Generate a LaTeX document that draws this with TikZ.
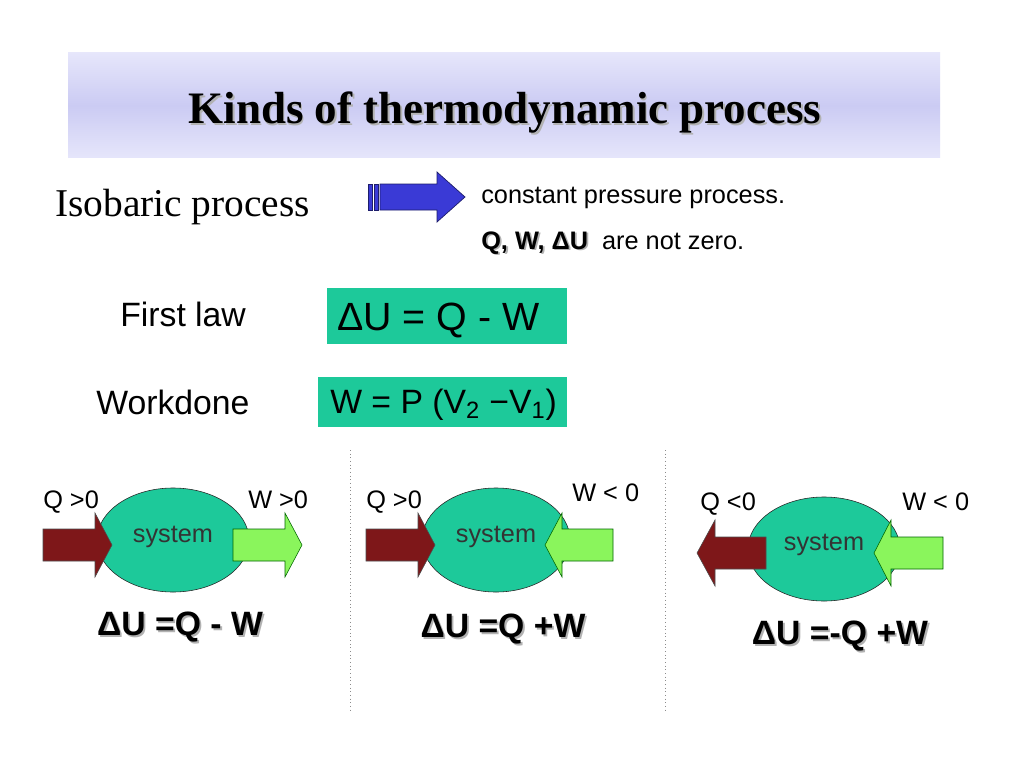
\documentclass[tikz,border=0pt]{standalone}
\usepackage{fontspec}
\setmainfont{Liberation Sans}
\newfontfamily\titleserif{Liberation Serif}
\usetikzlibrary{shapes.geometric,positioning}
\definecolor{SysTeal}{HTML}{1DC99A}
\definecolor{HeatRed}{HTML}{7E1719}
\definecolor{WorkGreen}{HTML}{8AF55C}
\definecolor{PushBlue}{HTML}{3A3AD6}
\definecolor{BarLilac}{HTML}{E6E6FB}
\definecolor{BarLilacMid}{HTML}{CBCBF3}
\newcommand{\dropshadow}[1]{\makebox[0pt][l]{\kern1.3pt\raisebox{-1.3pt}{\textcolor{black!30}{#1}}}{#1}}
% block arrow: style, tail x, neck x, tip x, centre y, half shaft, half head
\newcommand{\blockarrow}[7]{%
  \draw[#1] (#2,#5-#6) -- (#3,#5-#6) -- (#3,#5-#7) -- (#4,#5)
    -- (#3,#5+#7) -- (#3,#5+#6) -- (#2,#5+#6) -- cycle;}
\tikzset{
  titlebar/.style={top color=BarLilac,bottom color=BarLilac,middle color=BarLilacMid},
  eqbox/.style={fill=SysTeal},
  sysellipse/.style={ellipse,draw=black!85,fill=SysTeal,
    minimum width=3.8cm,minimum height=2.6cm,inner sep=0pt},
  systext/.style={font=\fontsize{18}{20}\selectfont,text=black!80},
  flowlabel/.style={font=\fontsize{18}{20}\selectfont,anchor=base west,inner sep=0pt},
  heatarrow/.style={fill=HeatRed,draw=black!70,line width=.4pt},
  workarrow/.style={fill=WorkGreen,draw=black!60!green,line width=.4pt},
  pusharrow/.style={fill=PushBlue,draw=PushBlue!50!black,line width=.5pt},
  energyeq/.style={font=\bfseries\fontsize{24}{26}\selectfont},
  divider/.style={draw=black!45,dotted,line width=.6pt}
}
\begin{document}
\begin{tikzpicture}[x=0.025cm,y=-0.025cm]
\useasboundingbox[fill=white] (0,0) rectangle (1024,768);
% heading
\shade[titlebar] (68,53) rectangle (940,158);
\node[font=\titleserif\bfseries\fontsize{32}{34}\selectfont,anchor=base,inner sep=0pt]
  (title) at (505,124) {\dropshadow{Kinds of thermodynamic process}};
% definition
\node[font=\titleserif\fontsize{28}{30}\selectfont,anchor=base west,inner sep=0pt]
  (isobaric) at (55,216) {Isobaric process};
\fill[pusharrow] (368,184) rectangle (372,210);
\fill[pusharrow] (374,184) rectangle (378,210);
\blockarrow{pusharrow}{380}{437}{465}{197}{13}{25}
\node[font=\fontsize{18}{20}\selectfont,anchor=base west,inner sep=0pt]
  (constp) at (481,203) {constant pressure process.};
\node[font=\fontsize{18}{20}\selectfont,anchor=base west,inner sep=0pt]
  (notzero) at (481,249) {\dropshadow{\bfseries Q, W, ΔU}\ \ are not zero.};
% first law and work
\node[font=\fontsize{24}{26}\selectfont,anchor=base west,inner sep=0pt]
  (firstlaw) at (120,326) {First law};
\fill[eqbox] (327,288) rectangle (567,344);
\node[font=\fontsize{28}{30}\selectfont,anchor=base west,inner sep=0pt]
  (lawEq) at (337,330) {ΔU = Q - W};
\node[font=\fontsize{24}{26}\selectfont,anchor=base west,inner sep=0pt]
  (workdone) at (96,414) {Workdone};
\fill[eqbox] (318,377) rectangle (567,427);
\node[font=\fontsize{24}{26}\selectfont,anchor=base west,inner sep=0pt]
  (workEq) at (330,413) {W = P (V\textsubscript{2} −V\textsubscript{1})};
% dividers
\draw[divider] (350,450) -- (350,713);
\draw[divider] (665,450) -- (665,713);
% case 1
\node[sysellipse] (sysA) at (173,540) {};
\node[systext] (sysAtxt) at ([yshift=2.5pt]sysA.center) {system};
\blockarrow{heatarrow}{43}{95}{112}{545}{16}{32}
\blockarrow{workarrow}{233}{285}{302}{545}{16}{32}
\node[flowlabel] (qA) at (43,508) {Q >0};
\node[flowlabel] (wA) at (248,508) {W >0};
\node[energyeq] (eqA) at (180,628) {\dropshadow{ΔU =Q - W}};
% case 2
\node[sysellipse,minimum width=3.7cm] (sysB) at (496,540) {};
\node[systext] (sysBtxt) at ([yshift=2.5pt]sysB.center) {system};
\blockarrow{heatarrow}{366}{418}{435}{545}{16}{32}
\blockarrow{workarrow}{613}{562}{545}{545}{16}{32}
\node[flowlabel] (qB) at (366,508) {Q >0};
\node[flowlabel] (wB) at (572,501) {W < 0};
\node[energyeq] (eqB) at (503,630) {\dropshadow{ΔU =Q +W}};
% case 3
\node[sysellipse] (sysC) at (824,549) {};
\node[systext] (sysCtxt) at ([yshift=3pt]sysC.center) {system};
\blockarrow{heatarrow}{766}{715}{697}{553}{16}{33}
\blockarrow{workarrow}{943}{891}{874}{553}{16}{33}
\node[flowlabel] (qC) at (700,510) {Q <0};
\node[flowlabel] (wC) at (902,510) {W < 0};
\node[energyeq] (eqC) at (840,637) {\dropshadow{ΔU =-Q +W}};
\end{tikzpicture}
\end{document}
